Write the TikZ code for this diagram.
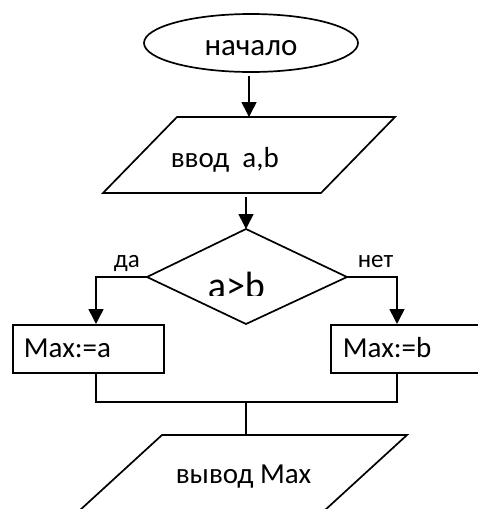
\documentclass[tikz,border=0pt]{standalone}
\usepackage{fontspec}
\setmainfont{Carlito}
\usetikzlibrary{shapes.geometric,arrows.meta}
\begin{document}
\begin{tikzpicture}[x=1pt,y=-1pt,
  line width=1.7pt,
  arr/.style={-{Triangle[width=15pt,length=15pt]}, line width=1.6pt},
  txt/.style={anchor=base west, inner sep=0pt},
  big/.style={font=\fontsize{31}{33}\selectfont},
  mid/.style={font=\fontsize{29}{31}\selectfont},
  small/.style={font=\fontsize{25}{27}\selectfont},
  huge/.style={font=\fontsize{38}{40}\selectfont},
]
\useasboundingbox (0,0) rectangle (477,509);
% start
\node[draw, ellipse, minimum width=214pt, minimum height=58pt, inner sep=0pt] (start) at (251,43) {};
\node[txt, big, anchor=base] (startt) at (251,55) {начало};
% input parallelogram
\coordinate (p1a) at (177,117);
\coordinate (p1b) at (395,117);
\coordinate (p1c) at (321,193);
\coordinate (p1d) at (103,193);
\draw (p1a) -- (p1b) -- (p1c) -- (p1d) -- cycle;
\node[txt, mid] (int) at (170,167) {ввод\ \ a,b};
\coordinate (s1) at (249,76);
\coordinate (p1top) at (249,117);
\draw[arr] (s1) -- (p1top);
% decision
\coordinate (dt) at (246,229);
\coordinate (dr) at (347,277);
\coordinate (db) at (246,324);
\coordinate (dl) at (147,277);
\draw (dt) -- (dr) -- (db) -- (dl) -- cycle;
\coordinate (s2) at (246,197);
\draw[arr] (s2) -- (dt);
\begin{scope}
\clip (147,229) rectangle (347,295);
\node[txt, huge] (cond) at (207,298) {a>b};
\end{scope}
\node[txt, small] (yes) at (113,267) {да};
\node[txt, small] (no) at (357,267) {нет};
% boxes
\node[draw, minimum width=151pt, minimum height=48pt, inner sep=0pt, anchor=north west] (ra) at (12,324) {};
\node[draw, minimum width=160pt, minimum height=48pt, inner sep=0pt, anchor=north west] (rb) at (330,324) {};
\node[txt, mid] (rat) at (23,357) {Max:=a};
\node[txt, mid] (rbt) at (342,357) {Max:=b};
\coordinate (ra top) at (96,324);
\coordinate (rb top) at (397,324);
\draw[arr] (dl) -| (ra top);
\draw[arr] (dr) -| (rb top);
% merge
\coordinate (ra bot) at (96,372);
\coordinate (rb bot) at (397,372);
\coordinate (mid) at (246,402);
\coordinate (p2top) at (246,435);
\draw (ra bot) |- (mid) -| (rb bot);
\draw (mid) -- (p2top);
% output parallelogram
\coordinate (p2a) at (162,435);
\coordinate (p2b) at (407,435);
\coordinate (p2c) at (324,511);
\coordinate (p2d) at (79,511);
\draw (p2a) -- (p2b) -- (p2c) -- (p2d) -- cycle;
\node[txt, mid] (outt) at (175,483) {вывод Max};
\end{tikzpicture}
\end{document}
